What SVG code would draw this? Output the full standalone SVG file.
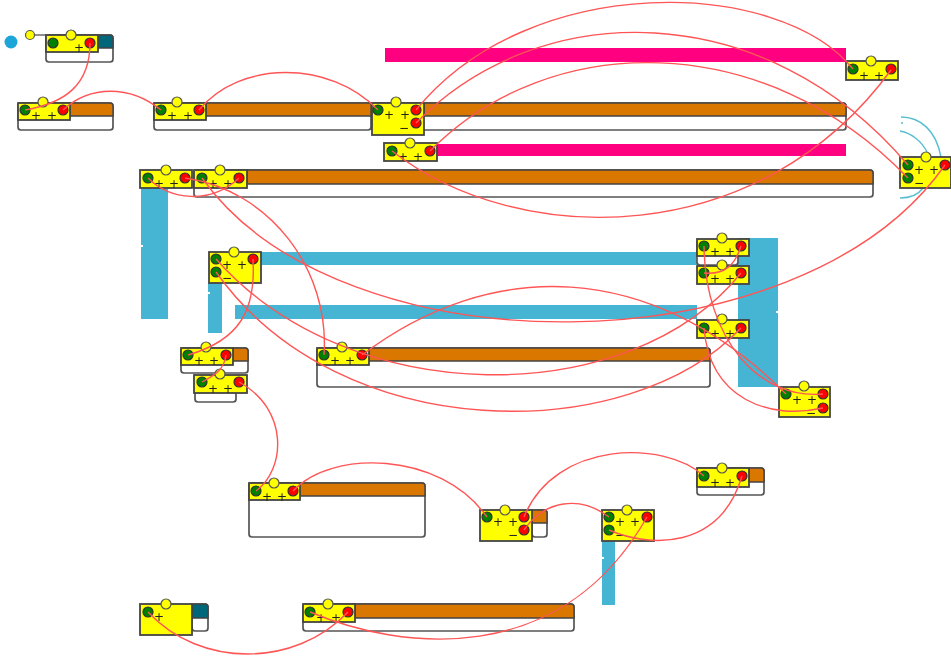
<svg xmlns="http://www.w3.org/2000/svg" width="951" height="657" viewBox="0 0 951 657">
<style>
.box{fill:#fff;stroke:#555;stroke-width:1.7}
.or{fill:#d97700;stroke:#444;stroke-width:1.4}
.te{fill:#00667a;stroke:#444;stroke-width:1.4}
.y{fill:#ff0;stroke:#444;stroke-width:1.8}
.k{fill:#ff0;stroke:#555;stroke-width:1.2}
.g{fill:#008000;stroke:#333;stroke-width:1.2}
.r{fill:#f00;stroke:#333;stroke-width:1.2}
.bl{fill:#45b5d3}
.pk{fill:#ff0080}
.nt{fill:#fff}
.t{font-family:"DejaVu Sans",sans-serif;font-size:12px;text-anchor:middle;fill:#222}
.c{fill:none;stroke:#ff5555;stroke-width:1.4}
.a{fill:none;stroke:#55bfd0;stroke-width:1.4}
</style>
<defs><filter id="soft" x="0" y="0" width="100%" height="100%"><feGaussianBlur stdDeviation="0.45"/></filter></defs>
<g filter="url(#soft)">
<rect x="0" y="0" width="951" height="657" fill="#fff"/>
<g id="bars">
<rect class="pk" x="385" y="48" width="461" height="14"/>
<rect class="pk" x="437" y="144" width="409" height="12"/>
<rect class="bl" x="141" y="188" width="27" height="131"/><rect class="nt" x="141" y="245" width="2" height="2"/>
<rect class="bl" x="208" y="283" width="14" height="50"/><rect class="nt" x="208" y="292" width="2" height="2"/>
<rect class="bl" x="261" y="252" width="436" height="13"/>
<rect class="bl" x="235" y="305" width="462" height="14"/>
<rect class="bl" x="738" y="238" width="40" height="149"/><rect class="nt" x="776" y="311" width="2" height="2"/>
<rect class="bl" x="602" y="541" width="13" height="64"/><rect class="nt" x="602" y="557" width="2" height="2"/>
</g>
<g id="n1">
<circle cx="11" cy="42" r="6.5" fill="#1fa6d8"/>
<path d="M30 35H46" stroke="#444" stroke-width="1.2"/><circle class="k" cx="30" cy="35" r="4.5"/>
<rect class="box" x="46" y="35" width="67" height="27" rx="3"/><path class="te" d="M98 35H110a3 3 0 0 1 3 3V48H98z"/>
<rect class="y" x="46" y="35" width="52" height="17"/><circle class="k" cx="71" cy="35" r="5"/><circle class="g" cx="53" cy="43" r="5"/><circle class="r" cx="90" cy="43" r="5"/>
<text class="t" x="79" y="52">+</text>
</g>
<g id="n2">
<rect class="box" x="18" y="103" width="95" height="27" rx="3"/><path class="or" d="M70 103H110a3 3 0 0 1 3 3V116H70z"/>
<rect class="y" x="18" y="103" width="52" height="17"/><circle class="k" cx="43" cy="102" r="5"/><circle class="g" cx="25" cy="110" r="5"/><circle class="r" cx="63" cy="110" r="5"/>
<text class="t" x="36" y="120">+</text><text class="t" x="52" y="120">+</text>
</g>
<g id="n3">
<rect class="box" x="154" y="103" width="217" height="27" rx="3"/><path class="or" d="M206 103H371V116H206z"/>
<rect class="y" x="154" y="103" width="52" height="17"/><circle class="k" cx="177" cy="102" r="5"/><circle class="g" cx="161" cy="110" r="5"/><circle class="r" cx="199" cy="110" r="5"/>
<text class="t" x="172" y="120">+</text><text class="t" x="188" y="120">+</text>
</g>
<g id="n4">
<rect class="box" x="372" y="103" width="474" height="27" rx="3"/><path class="or" d="M424 103H843a3 3 0 0 1 3 3V116H424z"/>
<rect class="y" x="372" y="103" width="52" height="32"/><circle class="k" cx="396" cy="102" r="5"/><circle class="g" cx="378" cy="110" r="5"/><circle class="r" cx="416" cy="110" r="5"/><circle class="r" cx="416" cy="123" r="5"/>
<text class="t" x="389" y="119">+</text><text class="t" x="405" y="119">+</text><text class="t" x="404" y="131.5">−</text>
</g>
<g id="n5">
<rect class="y" x="846" y="61" width="52" height="19"/><circle class="k" cx="871" cy="61" r="5"/><circle class="g" cx="853" cy="69" r="5"/><circle class="r" cx="891" cy="69" r="5"/>
<text class="t" x="864" y="80">+</text><text class="t" x="879" y="80">+</text>
</g>
<g id="n6">
<rect class="y" x="384" y="143" width="53" height="18"/><circle class="k" cx="410" cy="143" r="5"/><circle class="g" cx="392" cy="151" r="5"/><circle class="r" cx="430" cy="151" r="5"/>
<text class="t" x="403" y="161">+</text><text class="t" x="418" y="161">+</text>
</g>
<g id="n7">
<rect class="y" x="140" y="170" width="52" height="18"/><circle class="k" cx="166" cy="170" r="5"/><circle class="g" cx="148" cy="178" r="5"/><circle class="r" cx="185" cy="178" r="5"/>
<text class="t" x="159" y="188">+</text><text class="t" x="174" y="188">+</text>
</g>
<g id="n8">
<rect class="box" x="194" y="170" width="679" height="27" rx="3"/><path class="or" d="M247 170H870a3 3 0 0 1 3 3V184H247z"/>
<rect class="y" x="194" y="170" width="53" height="18"/><circle class="k" cx="220" cy="170" r="5"/><circle class="g" cx="202" cy="178" r="5"/><circle class="r" cx="239" cy="178" r="5"/>
<text class="t" x="213" y="188">+</text><text class="t" x="228" y="188">+</text>
</g>
<g id="n9">
<path class="a" d="M901 117C920 117 936 130 941 157M900 131C912 133 922 142 927 152M900 198C910 198 918 195 923 188"/>
<circle cx="902" cy="123" r="1" fill="#55bfd0"/>
<rect class="y" x="900" y="157" width="51" height="31"/><circle class="k" cx="926" cy="157" r="5"/><circle class="g" cx="908" cy="165" r="5"/><circle class="g" cx="908" cy="178" r="5"/><circle class="r" cx="945" cy="165" r="5"/>
<text class="t" x="919" y="174">+</text><text class="t" x="934" y="174">+</text><text class="t" x="919" y="186.5">−</text>
</g>
<g id="n10">
<rect class="y" x="209" y="252" width="52" height="31"/><circle class="k" cx="234" cy="252" r="5"/><circle class="g" cx="216" cy="259" r="5"/><circle class="g" cx="216" cy="272" r="5"/><circle class="r" cx="253" cy="259" r="5"/>
<text class="t" x="227" y="269">+</text><text class="t" x="242" y="269">+</text><text class="t" x="227" y="281.5">−</text>
</g>
<g id="n11">
<rect class="box" x="697" y="240" width="41" height="25" rx="3"/>
<rect class="y" x="697" y="239" width="52" height="17"/><circle class="k" cx="722" cy="238" r="5"/><circle class="g" cx="704" cy="246" r="5"/><circle class="r" cx="741" cy="246" r="5"/>
<text class="t" x="715" y="256">+</text><text class="t" x="730" y="256">+</text>
</g>
<g id="n12">
<rect class="y" x="697" y="266" width="52" height="18"/><circle class="k" cx="722" cy="265" r="5"/><circle class="g" cx="704" cy="273" r="5"/><circle class="r" cx="741" cy="273" r="5"/>
<text class="t" x="715" y="283">+</text><text class="t" x="730" y="283">+</text>
</g>
<g id="n13">
<rect class="y" x="697" y="320" width="52" height="18"/><circle class="k" cx="722" cy="319" r="5"/><circle class="g" cx="704" cy="328" r="5"/><circle class="r" cx="741" cy="328" r="5"/>
<text class="t" x="715" y="338">+</text><text class="t" x="730" y="338">+</text>
</g>
<g id="n14">
<rect class="y" x="779" y="387" width="51" height="30"/><circle class="k" cx="804" cy="386" r="5"/><circle class="g" cx="786" cy="394" r="5"/><circle class="r" cx="823" cy="394" r="5"/><circle class="r" cx="823" cy="408" r="5"/>
<text class="t" x="797" y="404">+</text><text class="t" x="812" y="404">+</text><text class="t" x="811" y="416.5">−</text>
</g>
<g id="n15">
<rect class="box" x="181" y="348" width="67" height="25" rx="3"/><path class="or" d="M233 348H245a3 3 0 0 1 3 3V361H233z"/>
<rect class="y" x="181" y="348" width="52" height="17"/><circle class="k" cx="206" cy="347" r="5"/><circle class="g" cx="188" cy="355" r="5"/><circle class="r" cx="226" cy="355" r="5"/>
<text class="t" x="199" y="365">+</text><text class="t" x="214" y="365">+</text>
</g>
<g id="n16">
<rect class="box" x="195" y="376" width="41" height="26" rx="3"/>
<rect class="y" x="194" y="375" width="53" height="18"/><circle class="k" cx="220" cy="374" r="5"/><circle class="g" cx="202" cy="382" r="5"/><circle class="r" cx="239" cy="382" r="5"/>
<text class="t" x="213" y="393">+</text><text class="t" x="228" y="393">+</text>
</g>
<g id="n17">
<rect class="box" x="317" y="348" width="393" height="39" rx="3"/><path class="or" d="M369 348H707a3 3 0 0 1 3 3V361H369z"/>
<rect class="y" x="317" y="348" width="52" height="17"/><circle class="k" cx="342" cy="347" r="5"/><circle class="g" cx="324" cy="355" r="5"/><circle class="r" cx="362" cy="355" r="5"/>
<text class="t" x="335" y="365">+</text><text class="t" x="350" y="365">+</text>
</g>
<g id="n18">
<rect class="box" x="249" y="483" width="176" height="54" rx="3"/><path class="or" d="M300 483H422a3 3 0 0 1 3 3V496H300z"/>
<rect class="y" x="249" y="483" width="51" height="17"/><circle class="k" cx="274" cy="483" r="5"/><circle class="g" cx="256" cy="491" r="5"/><circle class="r" cx="293" cy="491" r="5"/>
<text class="t" x="267" y="501">+</text><text class="t" x="282" y="501">+</text>
</g>
<g id="n19">
<rect class="box" x="532" y="510" width="15" height="27" rx="3"/><path class="or" d="M532 510H544a3 3 0 0 1 3 3V523H532z"/>
<rect class="y" x="480" y="510" width="52" height="31"/><circle class="k" cx="505" cy="510" r="5"/><circle class="g" cx="487" cy="517" r="5"/><circle class="r" cx="524" cy="517" r="5"/><circle class="r" cx="524" cy="530" r="5"/>
<text class="t" x="498" y="526">+</text><text class="t" x="513" y="526">+</text><text class="t" x="513" y="538.5">−</text>
</g>
<g id="n20">
<rect class="y" x="602" y="510" width="52" height="31"/><circle class="k" cx="627" cy="510" r="5"/><circle class="g" cx="609" cy="517" r="5"/><circle class="g" cx="609" cy="530" r="5"/><circle class="r" cx="647" cy="517" r="5"/>
<text class="t" x="620" y="526">+</text><text class="t" x="635" y="526">+</text><text class="t" x="620" y="538.5">−</text>
</g>
<g id="n21">
<rect class="box" x="697" y="468" width="67" height="27" rx="3"/><path class="or" d="M749 468H761a3 3 0 0 1 3 3V482H749z"/>
<rect class="y" x="697" y="468" width="52" height="19"/><circle class="k" cx="722" cy="468" r="5"/><circle class="g" cx="704" cy="476" r="5"/><circle class="r" cx="742" cy="476" r="5"/>
<text class="t" x="715" y="487">+</text><text class="t" x="730" y="487">+</text>
</g>
<g id="n22">
<rect class="box" x="192" y="604" width="16" height="27" rx="3"/><path class="te" d="M192 604H205a3 3 0 0 1 3 3V618H192z"/>
<rect class="y" x="140" y="604" width="52" height="31"/><circle class="k" cx="166" cy="604" r="5"/><circle class="g" cx="148" cy="612" r="5"/>
<text class="t" x="159" y="621">+</text>
</g>
<g id="n23">
<rect class="box" x="303" y="604" width="271" height="27" rx="3"/><path class="or" d="M355 604H571a3 3 0 0 1 3 3V618H355z"/>
<rect class="y" x="303" y="604" width="52" height="18"/><circle class="k" cx="328" cy="604" r="5"/><circle class="g" cx="310" cy="612" r="5"/><circle class="r" cx="348" cy="612" r="5"/>
<text class="t" x="321" y="622">+</text><text class="t" x="336" y="622">+</text>
</g>
<g id="connectors">
<path class="c" d="M90 43C90 85 65 103 25 110"/>
<path class="c" d="M63 110C90 85 130 85 161 110"/>
<path class="c" d="M199 110C240 60 330 60 378 110"/>
<path class="c" d="M416 110C530 -30 780 -22 853 69"/>
<path class="c" d="M416 123C540 -4 765 -4 908 165"/>
<path class="c" d="M430 151C550 29 765 29 908 178"/>
<path class="c" d="M392 151C520 250 760 250 891 70"/>
<path class="c" d="M148 178C170 200 210 205 239 178"/>
<path class="c" d="M185 178C270 190 330 270 324 355"/>
<path class="c" d="M202 178C340 372 800 372 945 165"/>
<path class="c" d="M216 259C350 411 630 411 741 273"/>
<path class="c" d="M216 272C340 447 629 447 741 328"/>
<path class="c" d="M253 259C256 310 240 340 188 355"/>
<path class="c" d="M226 355C224 370 215 375 202 382"/>
<path class="c" d="M239 382C290 410 285 470 256 491"/>
<path class="c" d="M293 491C330 450 440 450 487 517"/>
<path class="c" d="M524 517C555 440 665 440 704 476"/>
<path class="c" d="M524 530C545 500 580 495 609 517"/>
<path class="c" d="M609 530C650 548 720 550 742 476"/>
<path class="c" d="M310 612C400 650 560 670 647 517"/>
<path class="c" d="M148 612C200 668 295 668 348 612"/>
<path class="c" d="M704 246C705 340 760 400 823 394"/>
<path class="c" d="M704 273C725 275 735 265 741 246"/>
<path class="c" d="M704 328C710 400 770 420 823 408"/>
<path class="c" d="M362 355C490 258 650 258 786 394"/>
</g>
</g>
</svg>
